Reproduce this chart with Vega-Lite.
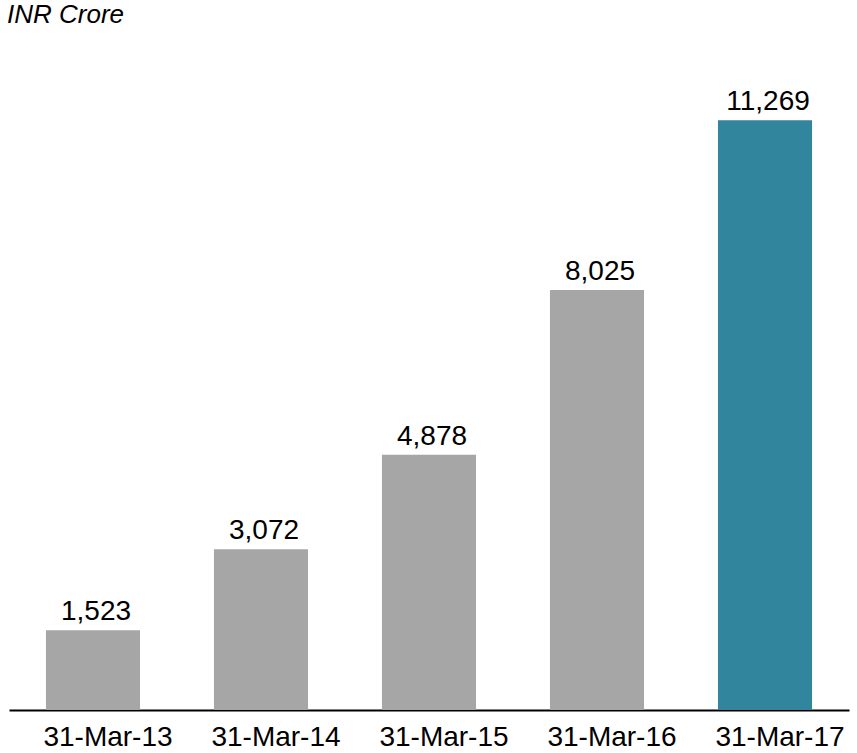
{
  "$schema": "https://vega.github.io/schema/vega-lite/v6.json",
  "width": 840,
  "height": 628,
  "autosize": {"type": "none"},
  "padding": {"top": 82, "left": 9, "right": 8, "bottom": 43},
  "background": "white",
  "config": {
    "view": {"stroke": null},
    "font": "Liberation Sans"
  },
  "title": {
    "text": "INR Crore",
    "anchor": "start",
    "frame": "group",
    "fontStyle": "italic",
    "fontWeight": "normal",
    "fontSize": 26,
    "font": "Liberation Sans",
    "color": "black",
    "baseline": "alphabetic",
    "offset": 33,
    "dx": -2
  },
  "data": {
    "values": [
      {"date": "31-Mar-13", "value": 1523, "hl": "no"},
      {"date": "31-Mar-14", "value": 3072, "hl": "no"},
      {"date": "31-Mar-15", "value": 4878, "hl": "no"},
      {"date": "31-Mar-16", "value": 8025, "hl": "no"},
      {"date": "31-Mar-17", "value": 11269, "hl": "yes"}
    ]
  },
  "encoding": {
    "x": {
      "field": "date",
      "type": "nominal",
      "sort": null,
      "scale": {"paddingInner": 0.44, "paddingOuter": 0.22},
      "axis": {
        "title": null,
        "labelAngle": 0,
        "labelFontSize": 28,
        "labelColor": "black",
        "labelFont": "Liberation Sans",
        "labelPadding": 13,
        "labelOffset": 15,
        "ticks": false,
        "domainColor": "black",
        "domainWidth": 2,
        "grid": false
      }
    },
    "y": {
      "field": "value",
      "type": "quantitative",
      "scale": {"domain": [0, 12000], "nice": false},
      "axis": null
    }
  },
  "layer": [
    {
      "mark": {"type": "bar"},
      "encoding": {
        "color": {
          "field": "hl",
          "type": "nominal",
          "scale": {"domain": ["no", "yes"], "range": ["#a6a6a6", "#31859c"]},
          "legend": null
        }
      }
    },
    {
      "mark": {"type": "text", "baseline": "alphabetic", "dy": -10, "dx": 3, "fontSize": 28, "color": "black", "font": "Liberation Sans"},
      "encoding": {
        "text": {"field": "value", "type": "quantitative", "format": ","}
      }
    }
  ]
}
